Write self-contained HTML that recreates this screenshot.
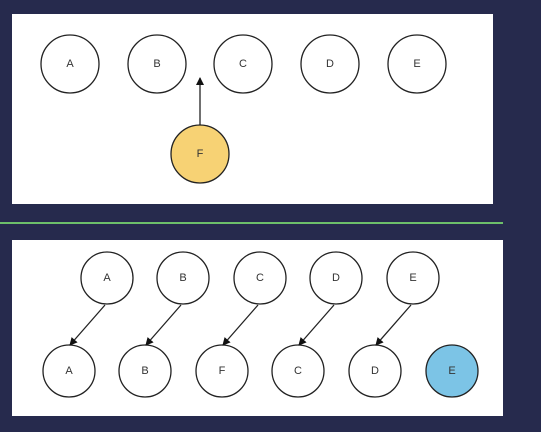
<!DOCTYPE html>
<html><head><meta charset="utf-8"><style>
html,body{margin:0;padding:0;background:#262a4d;}
svg{display:block}
text{font-family:"Liberation Sans",sans-serif;font-size:11px;fill:#333;text-anchor:middle;dominant-baseline:central}
</style></head><body>
<svg width="541" height="432">
<defs><marker id="ah" markerWidth="8" markerHeight="8" refX="7" refY="4" orient="auto" markerUnits="userSpaceOnUse"><path d="M0,0 L8,4 L0,8 z" fill="#111"/></marker></defs>
<rect x="0" y="0" width="541" height="432" fill="#262a4d"/>
<rect x="12" y="14" width="481" height="190" fill="#fff"/>
<rect x="0" y="222" width="503" height="2" fill="#6dbf6a"/>
<rect x="12" y="240" width="491" height="176" fill="#fff"/>
<g id="g" stroke="#222" stroke-width="1.3"></g>
</svg>
<script>
const topLabels=["A","B","C","D","E"];
const topX=[70,157,243,330,417];
const botTopX=[107,183,260,336,413];
const botLabels=["A","B","F","C","D","E"];
const botX=[69,145,222,298,375,452];
const g=document.getElementById('g');
const NS="http://www.w3.org/2000/svg";
function circle(cx,cy,r,fill,label,name){
  const c=document.createElementNS(NS,'circle');
  c.setAttribute('cx',cx);c.setAttribute('cy',cy);c.setAttribute('r',r);c.setAttribute('fill',fill);
  
  
  g.appendChild(c);
  const t=document.createElementNS(NS,'text');
  t.setAttribute('x',cx);t.setAttribute('y',cy);t.setAttribute('stroke','none');t.textContent=label;
  
  
  g.appendChild(t);
}
function arrow(x1,y1,x2,y2,name){
  const l=document.createElementNS(NS,'line');
  l.setAttribute('x1',x1);l.setAttribute('y1',y1);l.setAttribute('x2',x2);l.setAttribute('y2',y2);
  l.setAttribute('marker-end','url(#ah)');
  
  
  g.appendChild(l);
}
topLabels.forEach((L,i)=>circle(topX[i],64,29,'#fff',L,'top-'+L.toLowerCase()));
circle(200,154,29,'#f7d274','F','new-f');
arrow(200,125,200,78,'insert-arrow');
topLabels.forEach((L,i)=>circle(botTopX[i],278,26,'#fff',L,'old-'+L.toLowerCase()));
botLabels.forEach((L,i)=>circle(botX[i],371,26,i==5?'#7cc4e6':'#fff',L,'new-'+L.toLowerCase()+'-'+i));
const targets=[0,1,2,3,4];
targets.forEach((t,i)=>{
  const k=[0,1,3,4,5][i]-1<0?0:[0,1,3,4,5][i];
});
[0,1,2,3,4].forEach(i=>arrow(botTopX[i]-2,305,botX[i]+1,345,'move-arrow-'+i));
</script>
</body></html>
